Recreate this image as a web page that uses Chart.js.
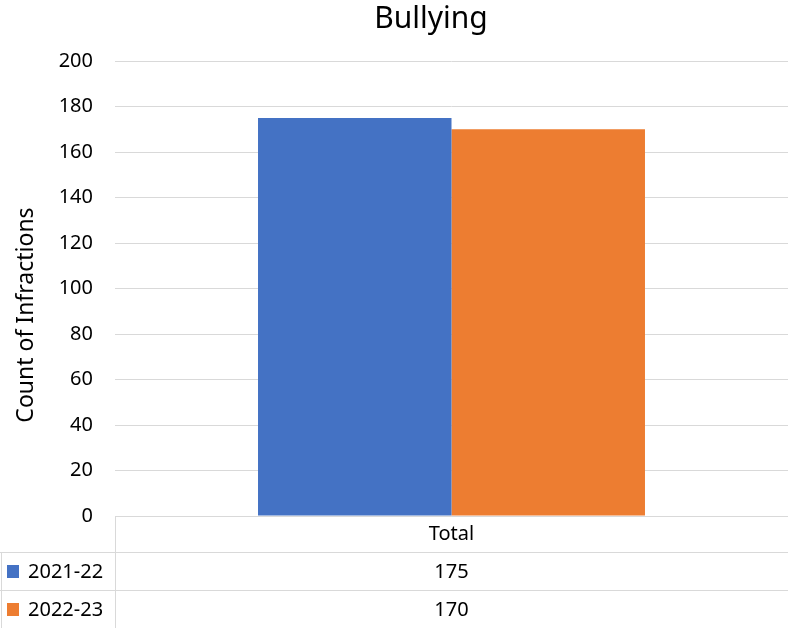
<!DOCTYPE html>
<html>
<head>
<meta charset="utf-8">
<script src="https://cdn.jsdelivr.net/npm/chart.js@4"></script>
<style>
  html, body { margin: 0; padding: 0; background: #fff; }
  #wrap { width: 788px; height: 628px; }
</style>
</head>
<body>
<div id="wrap"><canvas id="myChart"></canvas></div>
<script>
const categories = ['Total'];
const seriesNames = ['2021-22', '2022-23'];
const values2122 = [175];
const values2223 = [170];
const seriesColors = ['#4472c4', '#ed7d31'];
const chartTitle = 'Bullying';
const yTitle = 'Count of Infractions';

const FONT = '"Noto Sans", "Liberation Sans", sans-serif';

// titles placed like Excel does, plus the data table under the plot
const dataTable = {
    id: 'dataTable',
    afterDraw(chart) {
        const ctx = chart.ctx;
        const area = chart.chartArea;
        const x = chart.scales.x;
        const h = chart.height;
        const row1 = area.bottom + 36;
        const row2 = area.bottom + 74;
        ctx.save();

        ctx.fillStyle = '#000';
        ctx.textAlign = 'center';
        ctx.textBaseline = 'middle';
        ctx.font = '30px ' + FONT;
        ctx.fillText(chartTitle, 431, 19);
        ctx.save();
        ctx.translate(26, 315);
        ctx.rotate(-Math.PI / 2);
        ctx.font = '23px ' + FONT;
        ctx.fillText(yTitle, 0, 0);
        ctx.restore();

        ctx.strokeStyle = '#d9d9d9';
        ctx.lineWidth = 1;
        ctx.beginPath();
        ctx.moveTo(area.left, area.bottom + 0.5);
        ctx.lineTo(area.right, area.bottom + 0.5);
        ctx.moveTo(0, row1 + 0.5);
        ctx.lineTo(area.right, row1 + 0.5);
        ctx.moveTo(0, row2 + 0.5);
        ctx.lineTo(area.right, row2 + 0.5);
        ctx.moveTo(area.left + 0.5, area.bottom);
        ctx.lineTo(area.left + 0.5, h);
        ctx.moveTo(1.5, row1);
        ctx.lineTo(1.5, h);
        ctx.stroke();

        ctx.font = '20px ' + FONT;
        const rows = [values2122, values2223];
        const rowY = [(row1 + row2) / 2 + 1, (row2 + h) / 2 + 1];
        categories.forEach((c, i) => {
            const cx = x.getPixelForValue(i);
            ctx.fillText(c, cx, area.bottom + 18);
            rows.forEach((r, j) => {
                ctx.fillText(String(r[i]), cx, rowY[j]);
            });
        });
        ctx.textAlign = 'left';
        seriesNames.forEach((s, j) => {
            ctx.fillStyle = seriesColors[j];
            ctx.fillRect(7, rowY[j] - 7, 12, 13);
            ctx.fillStyle = '#000';
            ctx.fillText(s, 28, rowY[j]);
        });
        ctx.restore();
    }
};

const ctx1 = document.getElementById('myChart').getContext('2d');
const myChart1 = new Chart(ctx1, {
    type: 'bar',
    data: {
        labels: categories,
        datasets: [
            {
                label: seriesNames[0],
                data: values2122,
                backgroundColor: seriesColors[0],
            },
            {
                label: seriesNames[1],
                data: values2223,
                backgroundColor: seriesColors[1],
            },
        ],
    },
    options: {
        responsive: true,
        maintainAspectRatio: false,
        animation: false,
        layout: { padding: { left: 0, right: -4, top: 61, bottom: 0 } },
        datasets: {
            bar: { categoryPercentage: 0.575, barPercentage: 1.0 }
        },
        plugins: {
            legend: { display: false },
            tooltip: { enabled: false },
            title: { display: false }
        },
        scales: {
            x: {
                ticks: { display: false },
                grid: { display: false, drawTicks: false },
                border: { display: false },
                afterFit(scale) { scale.height = 112; }
            },
            y: {
                min: 0,
                max: 200,
                ticks: {
                    stepSize: 20,
                    color: '#000',
                    padding: 22,
                    font: { family: FONT, size: 20 }
                },
                grid: { color: '#d9d9d9', drawTicks: false },
                border: { display: false },
                afterFit(scale) { scale.width = 115; }
            }
        }
    },
    plugins: [dataTable]
});
</script>
</body>
</html>
